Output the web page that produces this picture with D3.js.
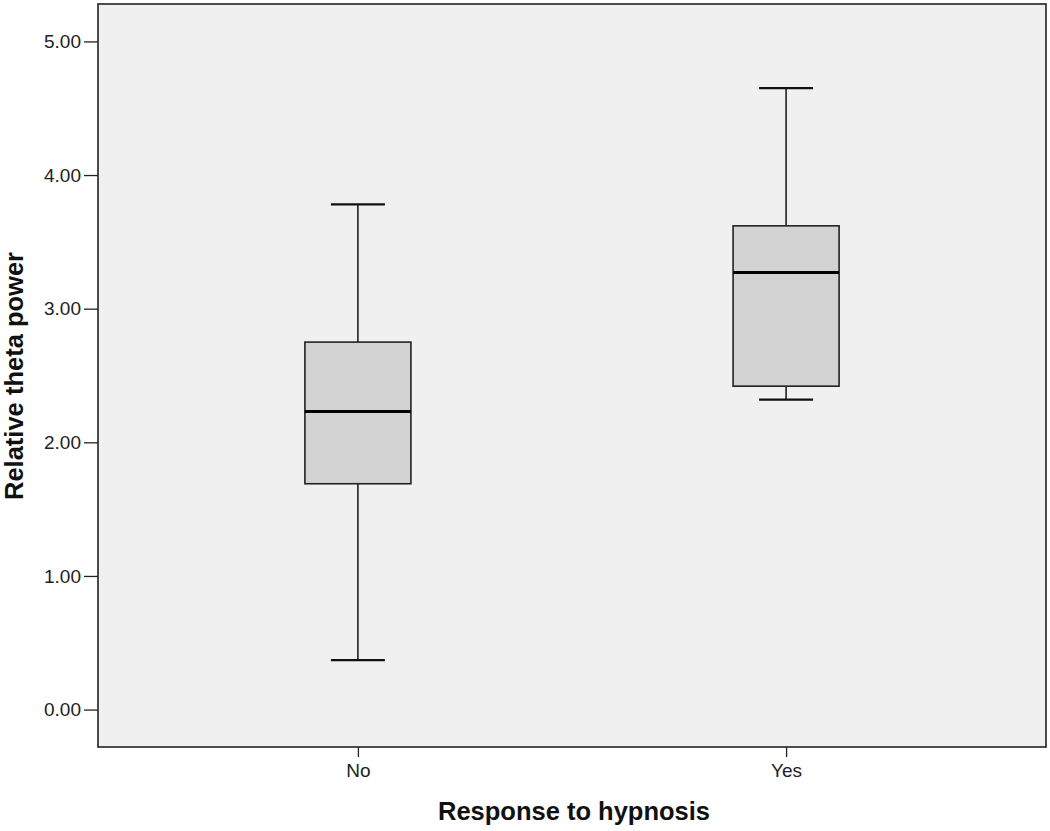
<!DOCTYPE html>
<html>
<head>
<meta charset="utf-8">
<script src="https://cdn.jsdelivr.net/npm/d3@7"></script>
<style>
	body { margin: 0; background: #fff; }
	#chart-area { width: 1050px; height: 831px; }
	.tick text { font-family: "Liberation Sans", Arial, sans-serif; font-size: 19px; fill: #222; }
</style>
</head>
<body>
<div id="chart-area"></div>
<script>
// data
const groups = ['No', 'Yes'];
const whiskerLow = [0.37, 2.32];
const quartile1 = [1.69, 2.42];
const medians = [2.23, 3.27];
const quartile3 = [2.75, 3.62];
const whiskerHigh = [3.78, 4.65];
const yTicks = [0, 1, 2, 3, 4, 5];

window.addEventListener('DOMContentLoaded', () => {

	const margin = { top: 4, right: 4, bottom: 84, left: 98 };
	const width = 1050 - margin.left - margin.right;
	const height = 831 - margin.top - margin.bottom;

	const svg = d3.select('#chart-area')
		.append('svg')
		.attr('width', 1050)
		.attr('height', 831);

	const g = svg.append('g')
		.attr('transform', `translate(${margin.left}, ${margin.top})`);

	g.append('rect')
		.attr('width', width)
		.attr('height', height)
		.attr('fill', '#f0f0f0');

	// scales
	const x = d3.scalePoint()
		.domain(groups)
		.range([0, width])
		.padding(0.607);

	const y = d3.scaleLinear()
		.domain([-0.28, 5.28])
		.range([height, 0]);

	// axes
	g.append('g')
		.attr('transform', `translate(0, ${height})`)
		.call(d3.axisBottom(x).tickSize(10).tickPadding(7))
		.call(a => a.select('.domain').remove())
		.call(a => a.selectAll('line').attr('stroke', '#222').attr('stroke-width', 1.3));

	g.append('g')
		.call(d3.axisLeft(y).tickValues(yTicks).tickFormat(d3.format('.2f')).tickSize(14).tickPadding(3))
		.call(a => a.select('.domain').remove())
		.call(a => a.selectAll('line').attr('stroke', '#222').attr('stroke-width', 1.3));

	const boxW = 106;
	const capW = 54;

	const boxes = g.selectAll('.box')
		.data(groups)
		.enter()
		.append('g')
		.attr('class', 'box')
		.attr('transform', d => `translate(${x(d)}, 0)`);

	// whiskers
	boxes.append('line')
		.attr('y1', (d, i) => y(whiskerLow[i]))
		.attr('y2', (d, i) => y(whiskerHigh[i]))
		.attr('stroke', '#111')
		.attr('stroke-width', 1.5);

	[whiskerLow, whiskerHigh].forEach(arr => {
		boxes.append('line')
			.attr('x1', -capW / 2)
			.attr('x2', capW / 2)
			.attr('y1', (d, i) => y(arr[i]))
			.attr('y2', (d, i) => y(arr[i]))
			.attr('stroke', '#111')
			.attr('stroke-width', 2.2);
	});

	boxes.append('rect')
		.attr('x', -boxW / 2)
		.attr('width', boxW)
		.attr('y', (d, i) => y(quartile3[i]))
		.attr('height', (d, i) => y(quartile1[i]) - y(quartile3[i]))
		.attr('fill', '#d2d2d2')
		.attr('stroke', '#222')
		.attr('stroke-width', 1.6);

	boxes.append('line')
		.attr('x1', -boxW / 2)
		.attr('x2', boxW / 2)
		.attr('y1', (d, i) => y(medians[i]))
		.attr('y2', (d, i) => y(medians[i]))
		.attr('stroke', '#000')
		.attr('stroke-width', 3);

	// frame
	g.append('rect')
		.attr('width', width)
		.attr('height', height)
		.attr('fill', 'none')
		.attr('stroke', '#222')
		.attr('stroke-width', 1.6);

	// titles
	svg.append('text')
		.attr('x', margin.left + width / 2 + 2)
		.attr('y', 820)
		.attr('text-anchor', 'middle')
		.style('font-family', '"Liberation Sans", Arial, sans-serif')
		.style('font-weight', 'bold')
		.style('font-size', '25.5px')
		.attr('fill', '#111')
		.text('Response to hypnosis');

	svg.append('text')
		.attr('transform', `translate(23, 376) rotate(-90)`)
		.attr('text-anchor', 'middle')
		.style('font-family', '"Liberation Sans", Arial, sans-serif')
		.style('font-weight', 'bold')
		.style('font-size', '25.5px')
		.attr('fill', '#111')
		.text('Relative theta power');
});
</script>
</body>
</html>
